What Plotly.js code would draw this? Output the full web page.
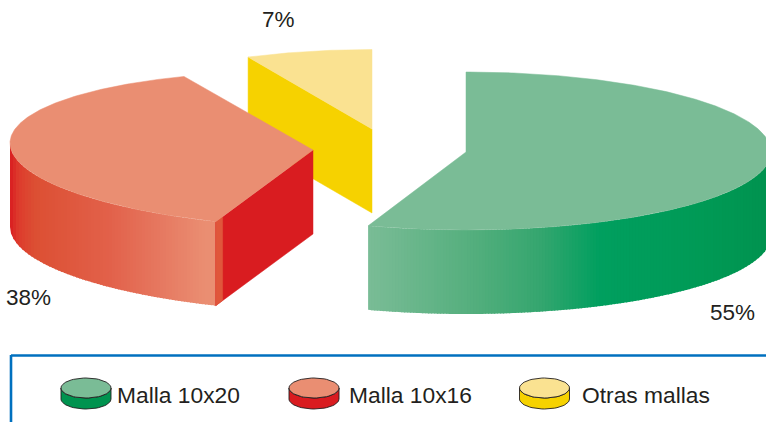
<!DOCTYPE html>
<html><head><meta charset="utf-8">
<script src="https://cdn.plot.ly/plotly-3.0.1.min.js"></script>
<style>html,body{margin:0;padding:0;background:#fff;overflow:hidden}#c{width:766px;height:422px}</style>
</head><body><div id="c"></div>
<script>
// Data
const categories = ['Malla 10x20', 'Malla 10x16', 'Otras mallas'];
const shares = [55.2, 37.8, 7];
const pctLabels = ['55%', '38%', '7%'];

// Styles
const topColors = ['#7ABC96', '#EA8E72', '#FAE291'];
const wallColors = ['#00934F', '#D91C20', '#F6D200'];

// Exploded geometry per slice (drawing units equal px on the hidden axes)
const geom = [
  {cx: 466, cy: 152, rx: 305, ryUp: 80, ryDown: 78, shear: 0},
  {cx: 313, cy: 150, rx: 303, ryUp: 78, ryDown: 78, shear: 0.023},
  {cx: 372, cy: 129, rx: 291, ryUp: 79.5, ryDown: 79.5, shear: 0}
];
const depth = 84;
const greenStops = [[368, '#7ABC96'], [470, '#55AF7E'], [540, '#35A66F'], [600, '#009F5F'], [700, '#009A56'], [766, '#00934F']];
const redStops = [[10, '#D91C20'], [18, '#DD3A2C'], [35, '#DC4F33'], [110, '#E2614A'], [160, '#E67860'], [205, '#EA8E72'], [218, '#EA8E72']];

const hex = c => [1, 3, 5].map(i => parseInt(c.substr(i, 2), 16));
function colorAt(stops, x) {
  if (x <= stops[0][0]) return stops[0][1];
  for (let i = 1; i < stops.length; i++) {
    if (x <= stops[i][0]) {
      const f = (x - stops[i-1][0]) / (stops[i][0] - stops[i-1][0]);
      const a = hex(stops[i-1][1]), b = hex(stops[i][1]);
      return 'rgb(' + a.map((v, k) => Math.round(v + (b[k] - v) * f)).join(',') + ')';
    }
  }
  return stops[stops.length - 1][1];
}
const D = Math.PI / 180;
const total = shares.reduce((a, b) => a + b, 0);
let acc = 0;
const spans = shares.map(v => { const s = acc; acc += v / total * 360; return [s, acc]; });
function pt(g, t) {
  const dx = g.rx * Math.sin(t * D), c = Math.cos(t * D);
  return [g.cx + dx, g.cy - (c > 0 ? g.ryUp : g.ryDown) * c + g.shear * dx];
}
const traces = [];
function poly(pts, color, lw) {
  traces.push({type: 'scatter', mode: 'lines', x: pts.map(p => p[0]), y: pts.map(p => p[1]),
    fill: 'toself', fillcolor: color, line: {color: color, width: lw}, hoverinfo: 'skip', showlegend: false});
}
function topFace(i) {
  const g = geom[i], [a, b] = spans[i], pts = [[g.cx, g.cy]];
  for (let t = a; t <= b + 1e-6; t += 0.5) pts.push(pt(g, t));
  pts.push(pt(g, b), [g.cx, g.cy]);
  poly(pts, topColors[i], 0.5);
}
// Front wall drawn as narrow vertical strips that follow the lower rim
function wall(i, xFrom, xTo, stops) {
  const g = geom[i], step = 3;
  const tOf = x => 180 - Math.asin(Math.max(-1, Math.min(1, (x - g.cx) / g.rx))) / D;
  for (let x = xFrom; x < xTo; x += step) {
    const e = Math.min(x + step + 1, xTo), p = [], q = [];
    for (let k = 0; k <= 4; k++) {
      const u = pt(g, tOf(x + (e - x) * k / 4));
      p.push(u); q.unshift([u[0], u[1] + depth]);
    }
    const pts = p.concat(q); pts.push(p[0]);
    poly(pts, colorAt(stops, x + step / 2), 0);
  }
}
function cut(i, t, color) {
  const g = geom[i], e = pt(g, t);
  poly([[g.cx, g.cy], e, [e[0], e[1] + depth], [g.cx, g.cy + depth], [g.cx, g.cy]], color, 0.5);
}
// Yellow slice (furthest back)
cut(2, spans[2][0], wallColors[2]);
topFace(2);
// Red slice
wall(1, geom[1].cx - geom[1].rx, pt(geom[1], spans[1][0])[0] + 0.5, redStops);
cut(1, spans[1][0], wallColors[1]);
(function () {
  const g = geom[1], e = pt(g, spans[1][0]);
  const f = 7 / (g.cx - e[0]);
  poly([e, [e[0] + (g.cx - e[0]) * f, e[1] + (g.cy - e[1]) * f],
        [e[0] + (g.cx - e[0]) * f, e[1] + (g.cy - e[1]) * f + depth], [e[0], e[1] + depth], e], '#E0563B', 0.3);
})();
topFace(1);
// Green slice
wall(0, pt(geom[0], spans[0][1])[0], geom[0].cx + geom[0].rx, greenStops);
topFace(0);

// Legend swatches
const swatchX = [86, 314, 544.5], labelX = [117, 349, 582];
const legendY = 388, srx = 25, sry = 10, sd = 11;
const shapes = [
  {type: 'line', x0: 11, x1: 766, y0: 355.5, y1: 355.5, line: {color: '#0070BF', width: 2.6}},
  {type: 'line', x0: 11, x1: 11, y0: 355, y1: 422, line: {color: '#0070BF', width: 2.6}}
];
const annotations = [];
categories.forEach((c, i) => {
  const cx = swatchX[i], w = [], o = [];
  for (let t = 90; t <= 270; t += 6) w.push([cx + srx * Math.sin(t * D), legendY - sry * Math.cos(t * D) + sd]);
  for (let t = 270; t >= 90; t -= 6) w.push([cx + srx * Math.sin(t * D), legendY - sry * Math.cos(t * D)]);
  traces.push({type: 'scatter', mode: 'lines', x: w.map(p => p[0]).concat(w[0][0]), y: w.map(p => p[1]).concat(w[0][1]),
    fill: 'toself', fillcolor: wallColors[i], line: {color: '#231F20', width: 0.9}, hoverinfo: 'skip', showlegend: false});
  for (let t = 0; t <= 360; t += 6) o.push([cx + srx * Math.sin(t * D), legendY - sry * Math.cos(t * D)]);
  traces.push({type: 'scatter', mode: 'lines', x: o.map(p => p[0]), y: o.map(p => p[1]),
    fill: 'toself', fillcolor: topColors[i], line: {color: '#231F20', width: 0.9}, hoverinfo: 'skip', showlegend: false});
  annotations.push({x: labelX[i], y: 395, xref: 'x', yref: 'y', xanchor: 'left', yanchor: 'middle', showarrow: false,
    text: c, align: 'left', font: {family: 'Liberation Sans', size: 22.8, color: '#231F20'}, borderpad: 0, borderwidth: 0});
});
const pctPos = [[732, 312], [28.5, 297], [278, 19]];
pctLabels.forEach((t, i) => annotations.push({x: pctPos[i][0], y: pctPos[i][1], xref: 'x', yref: 'y', xanchor: 'center', yanchor: 'middle',
  showarrow: false, text: t, font: {family: 'Liberation Sans', size: 22.5, color: '#231F20'}}));

Plotly.newPlot('c', traces, {
  width: 766, height: 422, margin: {l: 0, r: 0, t: 0, b: 0}, paper_bgcolor: '#fff', plot_bgcolor: '#fff', showlegend: false,
  xaxis: {range: [0, 766], visible: false, fixedrange: true},
  yaxis: {range: [422, 0], visible: false, fixedrange: true},
  shapes, annotations
}, {displayModeBar: false, staticPlot: true});
</script></body></html>
